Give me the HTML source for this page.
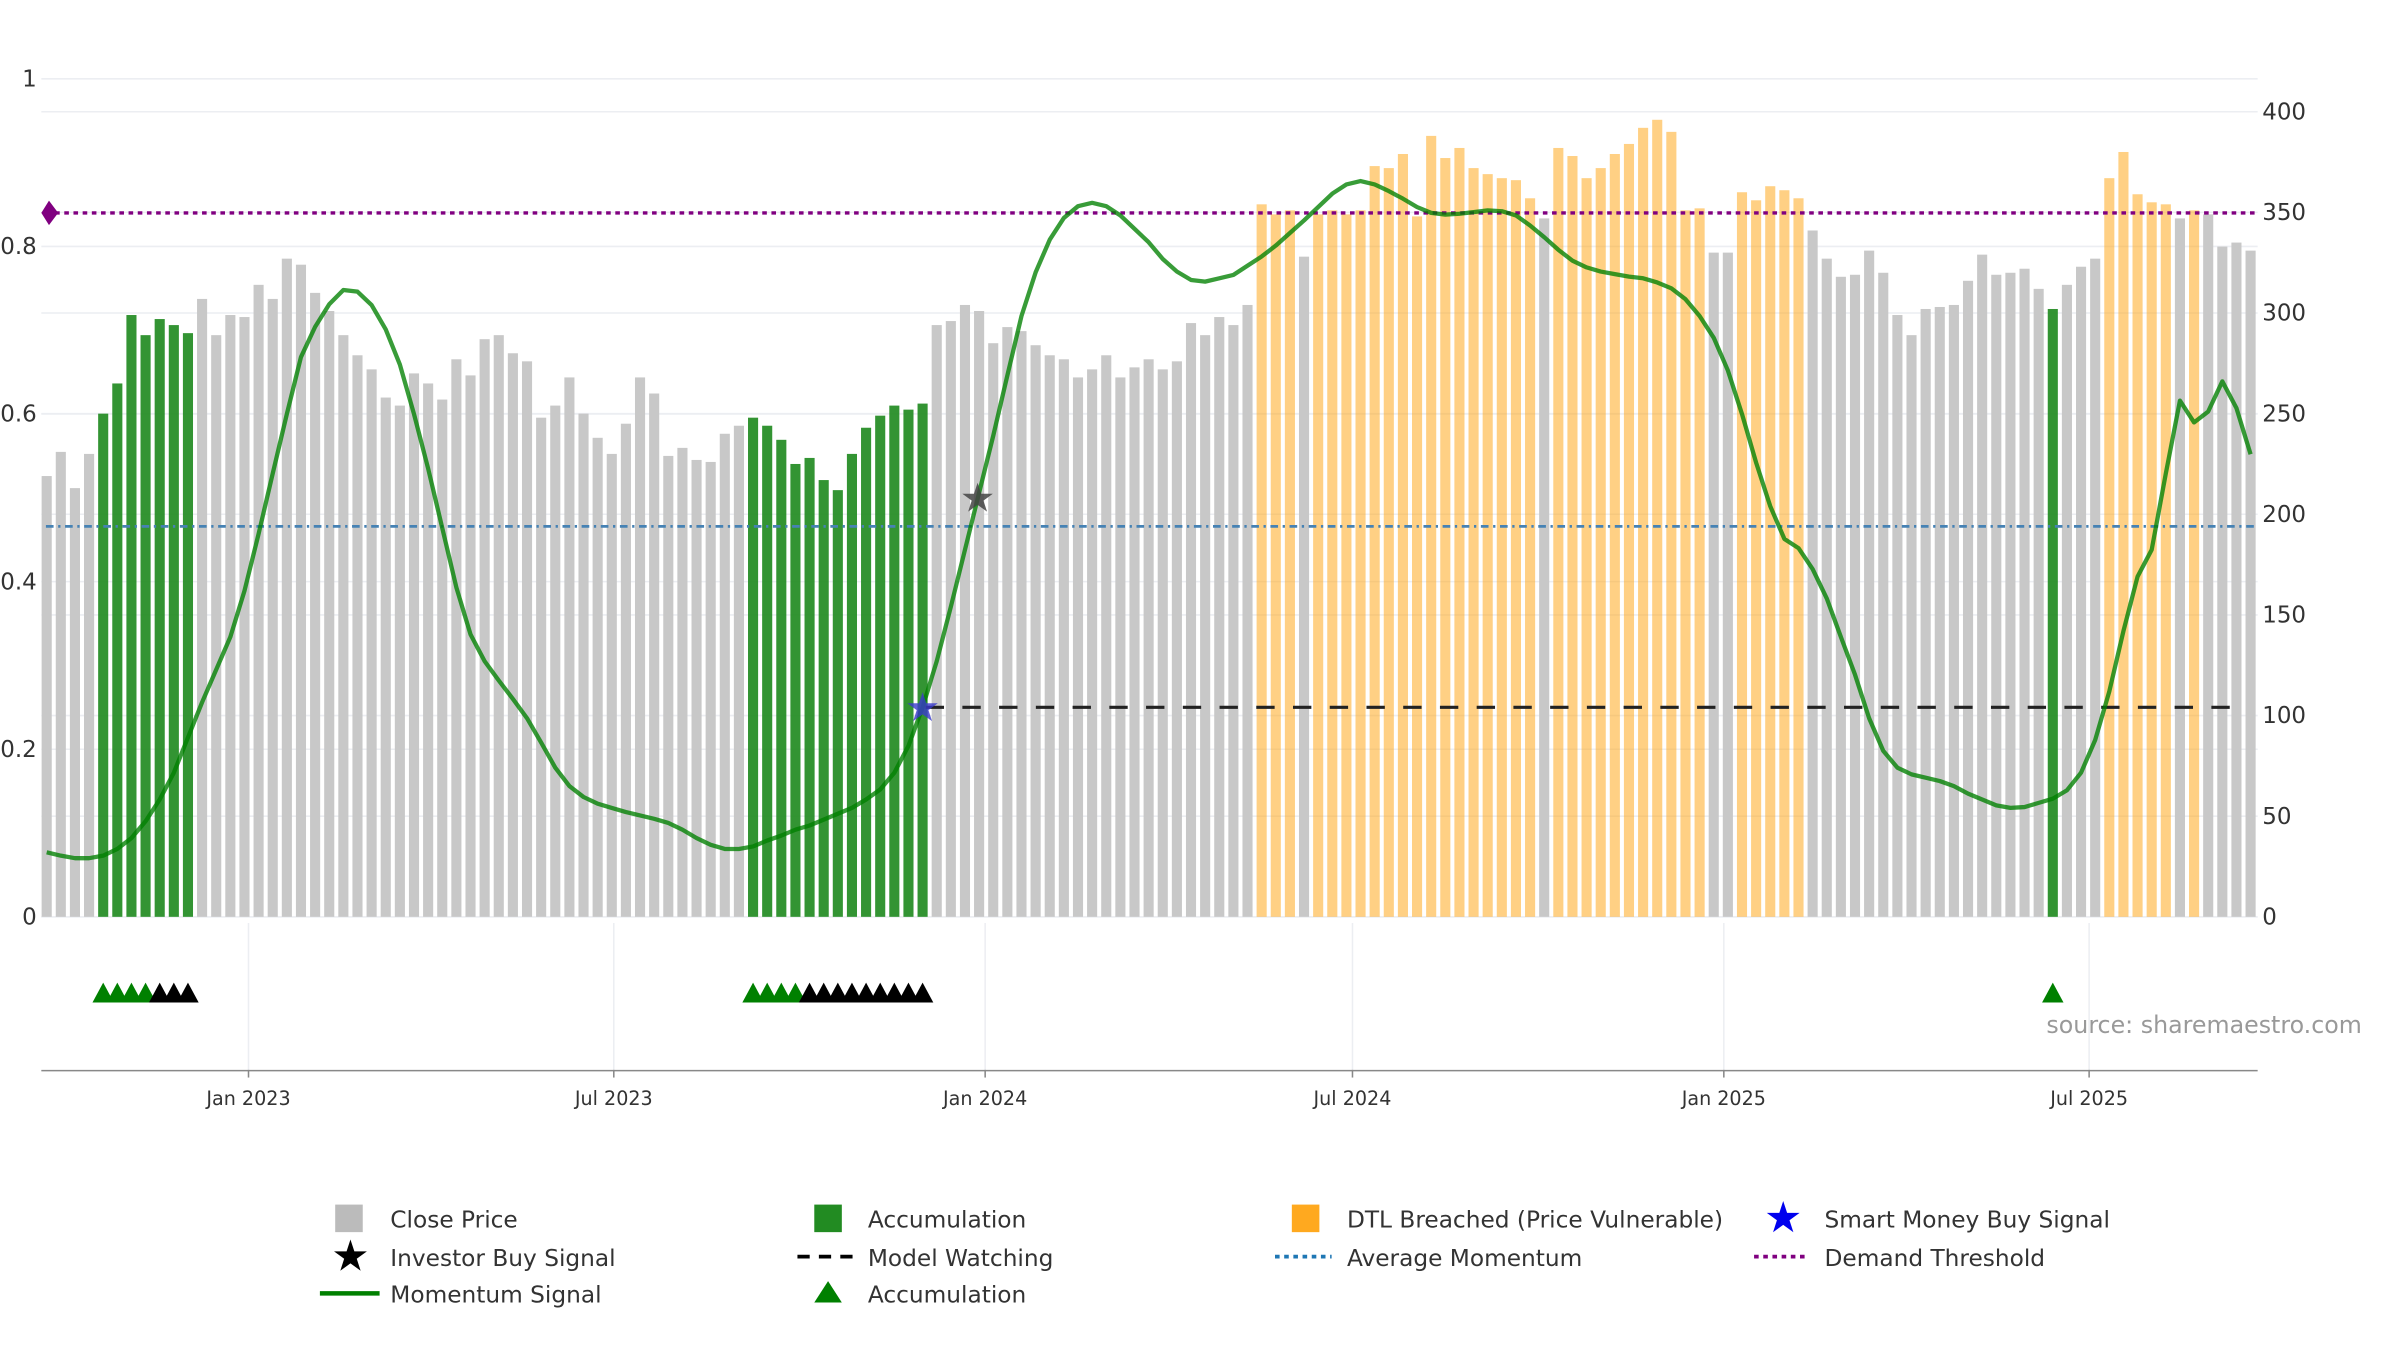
<!DOCTYPE html>
<html><head><meta charset="utf-8"><style>
html,body{margin:0;padding:0;background:#fff;}
svg{display:block;font-family:"DejaVu Sans","Liberation Sans",sans-serif;}
</style></head><body>
<svg id="chart" width="2400" height="1350" viewBox="0 0 1568 882" preserveAspectRatio="none" xmlns="http://www.w3.org/2000/svg">
<g id="grid"></g>
<g id="bars"></g>
<g id="lines"></g>
<g id="mom"></g>
<g id="marks"></g>
<g id="axes"></g>
<text x="1337" y="675" font-size="15.5" fill="#999">source: sharemaestro.com</text>
<g id="legend" font-size="15.2" fill="#333">
  <g><rect x="219" y="787" width="18" height="18" fill="#bbb"/><text x="255" y="802">Close Price</text></g>
  <g><rect x="532" y="787" width="18" height="18" fill="#228b22"/><text x="567" y="802">Accumulation</text></g>
  <g><rect x="844" y="787" width="18" height="18" fill="#ffa91f"/><text x="880" y="802">DTL Breached (Price Vulnerable)</text></g>
  <g><text x="1165" y="805" font-size="28" fill="#0000ee" text-anchor="middle">★</text><text x="1192" y="802">Smart Money Buy Signal</text></g>
  <g><text x="229" y="830" font-size="28" fill="#000" text-anchor="middle">★</text><text x="255" y="827">Investor Buy Signal</text></g>
  <g><line x1="521" y1="821" x2="557" y2="821" stroke="#000" stroke-width="2.5" stroke-dasharray="8,6"/><text x="567" y="827">Model Watching</text></g>
  <g><line x1="833" y1="821" x2="870" y2="821" stroke="#1f77b4" stroke-width="2.5" stroke-dasharray="3,3"/><text x="880" y="827">Average Momentum</text></g>
  <g><line x1="1146" y1="821" x2="1182" y2="821" stroke="#800080" stroke-width="2.5" stroke-dasharray="3,3"/><text x="1192" y="827">Demand Threshold</text></g>
  <g><line x1="209" y1="845" x2="248" y2="845" stroke="#008000" stroke-width="3"/><text x="255" y="851">Momentum Signal</text></g>
  <g><polygon points="532,851 550,851 541,837" fill="#008000"/><text x="567" y="851">Accumulation</text></g>
</g>
</svg>
<script>
const prices = [219,231,213,230,250,265,299,289,297,294,290,307,289,299,298,314,307,327,324,310,301,289,279,272,258,254,270,265,257,277,269,287,289,280,276,248,254,268,250,238,230,245,268,260,229,233,227,226,240,244,248,244,237,225,228,217,212,230,243,249,254,252,255,294,296,304,301,285,293,291,284,279,277,268,272,279,268,273,277,272,276,295,289,298,294,304,354,349,351,328,349,351,349,351,373,372,379,348,388,377,382,372,369,367,366,357,347,382,378,367,372,379,384,392,396,390,351,352,330,330,360,356,363,361,357,341,327,318,319,331,320,299,289,302,303,304,316,329,319,320,322,312,302,314,323,327,367,380,359,355,354,347,351,349,333,335,331];
const momentum = [0.077,0.073,0.070,0.070,0.073,0.081,0.094,0.114,0.140,0.172,0.214,0.256,0.295,0.334,0.389,0.457,0.529,0.600,0.668,0.704,0.731,0.748,0.746,0.730,0.701,0.659,0.600,0.535,0.464,0.393,0.337,0.305,0.282,0.260,0.237,0.208,0.178,0.156,0.143,0.135,0.130,0.125,0.121,0.117,0.112,0.104,0.094,0.086,0.081,0.081,0.084,0.091,0.097,0.104,0.109,0.116,0.123,0.130,0.140,0.152,0.172,0.204,0.250,0.305,0.370,0.438,0.506,0.574,0.646,0.717,0.769,0.808,0.834,0.848,0.852,0.848,0.837,0.821,0.805,0.785,0.770,0.760,0.758,0.762,0.766,0.777,0.788,0.801,0.816,0.831,0.847,0.863,0.874,0.878,0.874,0.866,0.857,0.847,0.840,0.838,0.839,0.841,0.843,0.842,0.837,0.825,0.811,0.796,0.783,0.775,0.770,0.767,0.764,0.762,0.757,0.750,0.737,0.717,0.691,0.652,0.600,0.542,0.490,0.451,0.440,0.415,0.380,0.334,0.289,0.237,0.198,0.178,0.170,0.166,0.162,0.156,0.147,0.140,0.133,0.130,0.131,0.136,0.141,0.151,0.172,0.211,0.269,0.341,0.406,0.438,0.529,0.616,0.590,0.603,0.639,0.607,0.552];
const accumIdx = [4,5,6,7,8,9,10,50,51,52,53,54,55,56,57,58,59,60,61,62,142];
const dtlIdx = [86,87,88,90,91,92,93,94,95,96,97,98,99,100,101,102,103,104,105,107,108,109,110,111,112,113,114,115,116,117,120,121,122,123,124,146,147,148,149,150,152];
const greenTri = [4,5,6,7,50,51,52,53,142];
const blackTri = [8,9,10,54,55,56,57,58,59,60,61,62];
const leftTicks = [0,0.2,0.4,0.6,0.8,1];
const leftLabels = ["0","0.2","0.4","0.6","0.8","1"];
const rightTicks = [0,50,100,150,200,250,300,350,400];
const dateTicks = ["2023-01-01","2023-07-01","2024-01-01","2024-07-01","2025-01-01","2025-07-01"];
const dateLabels = ["Jan 2023","Jul 2023","Jan 2024","Jul 2024","Jan 2025","Jul 2025"];
const demandThreshold = 0.84;
const avgMomentum = 0.466;
const modelWatching = 0.25;
const smartMoney = {idx:62, val:0.25};
const investorBuy = {idx:66, val:0.50};
const startDate = "2022-09-23";

const NS="http://www.w3.org/2000/svg";
const X0=30.5, STEP=9.23, BASE=599;
function x(k){return X0+k*STEP;}
function xDate(d){return X0+(new Date(d)-new Date(startDate))/86400000/7*STEP;}
function yR(v){return BASE-v*1.315;}
function yL(m){return BASE-m*547.5;}
function mk(tag,attrs,parent){const e=document.createElementNS(NS,tag);for(const k in attrs)e.setAttribute(k,attrs[k]);parent.appendChild(e);return e;}
const G=id=>document.getElementById(id);

rightTicks.forEach(v=>{const l=mk('line',{x1:27,x2:1475,y1:yR(v),y2:yR(v),stroke:'#eceef2','stroke-width':1},G('grid'));

});
leftTicks.forEach(v=>{const l=mk('line',{x1:27,x2:1475,y1:yL(v),y2:yL(v),stroke:'#eceef2','stroke-width':1},G('grid'));

});

prices.forEach((p,k)=>{
  let fill='#c8c8c8', op=1, nm='bar-close-price';
  if(accumIdx.includes(k)){fill='#228b22';op=0.92;nm='bar-accumulation';}
  else if(dtlIdx.includes(k)){fill='#ffa91f';op=0.55;nm='bar-dtl-breached';}
  const r=mk('rect',{x:x(k)-3.3,y:yR(p),width:6.6,height:BASE-yR(p),fill:fill,'fill-opacity':op},G('bars'));
  
  
});

let l1=mk('line',{x1:30,x2:1475,y1:yL(demandThreshold),y2:yL(demandThreshold),stroke:'#800080','stroke-width':2.2,'stroke-dasharray':'3,3'},G('lines'));


let dm=mk('polygon',{points:`${27},${yL(demandThreshold)} ${32},${yL(demandThreshold)-8} ${38},${yL(demandThreshold)} ${32},${yL(demandThreshold)+8}`,fill:'#800080'},G('lines'));


let l2=mk('line',{x1:30,x2:1475,y1:yL(avgMomentum),y2:yL(avgMomentum),stroke:'#4682b4','stroke-width':1.8,'stroke-dasharray':'5,3,1.5,3'},G('lines'));


let l3=mk('line',{x1:x(smartMoney.idx)+2,x2:x(prices.length-1)-8,y1:yL(modelWatching),y2:yL(modelWatching),stroke:'#222','stroke-width':2,'stroke-dasharray':'12,12'},G('lines'));



const pts=momentum.map((m,k)=>x(k)+','+yL(m)).join(' ');
let pl=mk('polyline',{points:pts,fill:'none',stroke:'#008000','stroke-width':2.8,'stroke-opacity':0.78,'stroke-linejoin':'round'},G('mom'));



let s1=mk('text',{x:x(smartMoney.idx),y:yL(smartMoney.val)+9,'font-size':26,fill:'#3a3acc','fill-opacity':0.8,'text-anchor':'middle'},G('marks'));
s1.textContent='★';


let s2=mk('text',{x:x(investorBuy.idx)-1,y:yL(investorBuy.val)+9,'font-size':26,fill:'#444','fill-opacity':0.85,'text-anchor':'middle'},G('marks'));
s2.textContent='★';



greenTri.forEach(k=>{const t=mk('polygon',{points:`${x(k)-7},655 ${x(k)+7},655 ${x(k)},642`,fill:'#008000'},G('marks'));

});
blackTri.forEach(k=>{const t=mk('polygon',{points:`${x(k)-7},655 ${x(k)+7},655 ${x(k)},642`,fill:'#000'},G('marks'));

});

const ax=G('axes');
leftTicks.forEach((v,i)=>{const t=mk('text',{x:24,y:yL(v)+5,'font-size':15,fill:'#333','text-anchor':'end'},ax);t.textContent=leftLabels[i];

});
rightTicks.forEach(v=>{const t=mk('text',{x:1478,y:yR(v)+5,'font-size':15,fill:'#333'},ax);t.textContent=v;

});
dateTicks.forEach((d,i)=>{const xx=xDate(d);
 const g=mk('line',{x1:xx,x2:xx,y1:603,y2:699,stroke:'#eceef2','stroke-width':1},ax);
 
 
 const tk=mk('line',{x1:xx,x2:xx,y1:699,y2:704,stroke:'#888','stroke-width':1},ax);
 
 
 const t=mk('text',{x:xx,y:722,'font-size':12.5,fill:'#333','text-anchor':'middle'},ax);t.textContent=dateLabels[i];
 
 });
let xa=mk('line',{x1:27,x2:1475,y1:699.5,y2:699.5,stroke:'#888','stroke-width':1},ax);


</script>
</body></html>
